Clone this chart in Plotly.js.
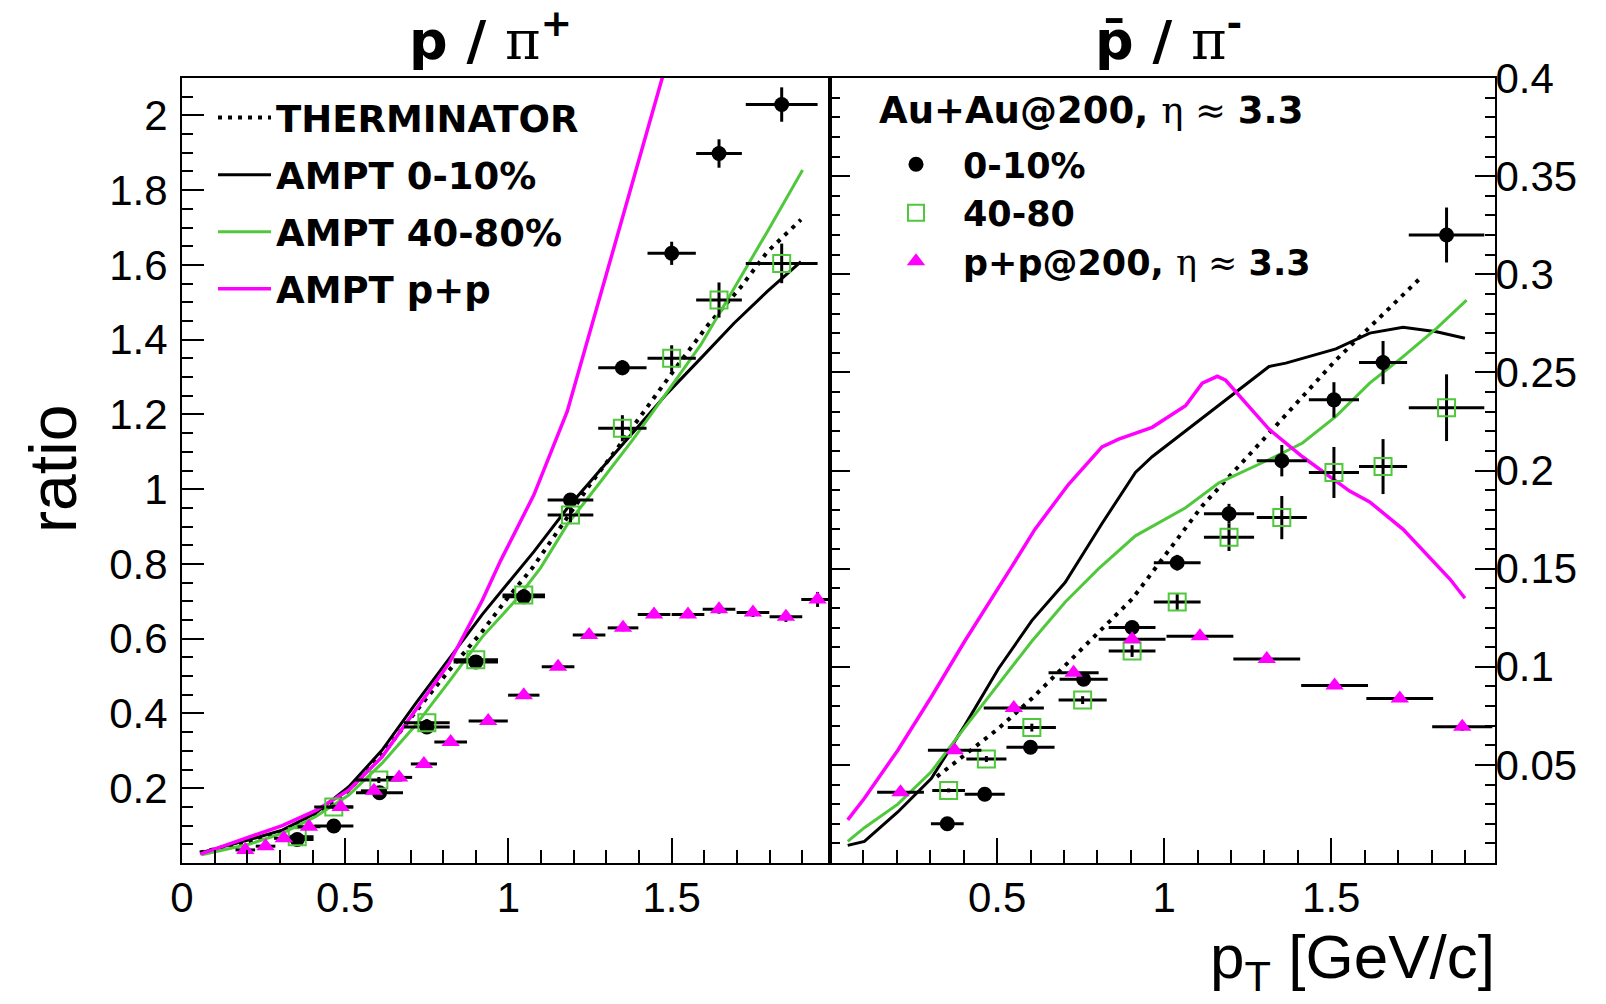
<!DOCTYPE html>
<html><head><meta charset="utf-8">
<script src="https://cdn.plot.ly/plotly-3.0.1.min.js"></script>
<style>html,body{margin:0;padding:0;background:#fff}#chart{width:1606px;height:1004px}</style>
</head><body><div id="chart"></div>
<script>
// ---------------- LEFT PANEL: p / pi+ ----------------
const L_auau010_x  = [0.353, 0.465, 0.605, 0.75, 0.90, 1.047, 1.19, 1.349, 1.50, 1.645, 1.837];
const L_auau010_y  = [0.063, 0.099, 0.188, 0.364, 0.538, 0.712, 0.971, 1.325, 1.631, 1.898, 2.029];
const L_auau010_ex = [0.05, 0.06, 0.072, 0.07, 0.068, 0.065, 0.07, 0.074, 0.074, 0.07, 0.11];
const L_auau010_ey = [0.005, 0.005, 0.007, 0.01, 0.012, 0.015, 0.015, 0.02, 0.031, 0.038, 0.046];

const L_auau4080_x  = [0.353, 0.465, 0.603, 0.75, 0.90, 1.047, 1.19, 1.349, 1.50, 1.645, 1.837];
const L_auau4080_y  = [0.07, 0.15, 0.222, 0.375, 0.544, 0.717, 0.931, 1.163, 1.350, 1.506, 1.604];
const L_auau4080_ex = [0.05, 0.06, 0.072, 0.07, 0.068, 0.065, 0.07, 0.074, 0.074, 0.07, 0.11];
const L_auau4080_ey = [0.005, 0.006, 0.008, 0.01, 0.012, 0.015, 0.02, 0.035, 0.035, 0.047, 0.053];

const L_pp_x  = [0.194, 0.256, 0.312, 0.389, 0.486, 0.588, 0.665, 0.741, 0.823, 0.938, 1.047, 1.152, 1.247, 1.351, 1.446, 1.55, 1.645, 1.749, 1.85, 1.947];
const L_pp_y  = [0.035, 0.045, 0.066, 0.097, 0.15, 0.193, 0.229, 0.265, 0.324, 0.38, 0.449, 0.525, 0.610, 0.629, 0.665, 0.665, 0.679, 0.670, 0.659, 0.705];
const L_pp_ex = [0.03, 0.03, 0.03, 0.035, 0.038, 0.04, 0.04, 0.04, 0.05, 0.06, 0.048, 0.05, 0.05, 0.047, 0.05, 0.05, 0.05, 0.05, 0.05, 0.05];
const L_pp_ey = [0.003, 0.003, 0.003, 0.004, 0.004, 0.005, 0.005, 0.005, 0.006, 0.006, 0.007, 0.008, 0.008, 0.009, 0.01, 0.01, 0.012, 0.012, 0.014, 0.02];

const L_therm_x = [0.055, 0.205, 0.307, 0.409, 0.511, 0.613, 0.716, 0.818, 0.92, 0.992, 1.073, 1.252, 1.333, 1.395, 1.507, 1.61, 1.712, 1.793, 1.896];
const L_therm_y = [0.028, 0.058, 0.085, 0.128, 0.195, 0.289, 0.405, 0.515, 0.62, 0.703, 0.789, 1.015, 1.109, 1.184, 1.318, 1.438, 1.541, 1.635, 1.721];

const L_ampt010_x = [0.055, 0.205, 0.307, 0.409, 0.511, 0.613, 0.716, 0.818, 0.92, 1.078, 1.18, 1.282, 1.384, 1.487, 1.589, 1.691, 1.793, 1.896];
const L_ampt010_y = [0.027, 0.062, 0.088, 0.133, 0.204, 0.302, 0.427, 0.547, 0.665, 0.833, 0.949, 1.052, 1.154, 1.257, 1.35, 1.444, 1.529, 1.609];

const L_ampt4080_x = [0.06, 0.205, 0.307, 0.409, 0.511, 0.613, 0.716, 0.818, 0.92, 1.022, 1.098, 1.18, 1.282, 1.384, 1.487, 1.589, 1.691, 1.793, 1.901];
const L_ampt4080_y = [0.022, 0.05, 0.079, 0.124, 0.182, 0.267, 0.369, 0.485, 0.605, 0.703, 0.789, 0.905, 1.02, 1.136, 1.261, 1.386, 1.537, 1.689, 1.854];

const L_ampt_pp_x = [0.056, 0.205, 0.307, 0.409, 0.511, 0.613, 0.716, 0.818, 0.92, 0.975, 1.078, 1.18, 1.282, 1.384, 1.471, 1.50];
const L_ampt_pp_y = [0.024, 0.068, 0.10, 0.14, 0.195, 0.284, 0.409, 0.534, 0.703, 0.807, 0.985, 1.208, 1.52, 1.832, 2.10, 2.21];

// ---------------- RIGHT PANEL: pbar / pi- ----------------
const R_auau010_x  = [0.351, 0.463, 0.60, 0.759, 0.904, 1.039, 1.194, 1.352, 1.508, 1.655, 1.845];
const R_auau010_y  = [0.020, 0.035, 0.059, 0.0936, 0.120, 0.153, 0.178, 0.205, 0.236, 0.255, 0.320];
const R_auau010_ex = [0.049, 0.06, 0.072, 0.072, 0.07, 0.07, 0.075, 0.075, 0.075, 0.072, 0.113];
const R_auau010_ey = [0.001, 0.001, 0.0015, 0.002, 0.003, 0.004, 0.005, 0.008, 0.009, 0.011, 0.014];

const R_auau4080_x  = [0.355, 0.468, 0.604, 0.756, 0.904, 1.039, 1.194, 1.352, 1.508, 1.655, 1.845];
const R_auau4080_y  = [0.037, 0.053, 0.069, 0.083, 0.108, 0.133, 0.166, 0.176, 0.199, 0.202, 0.232];
const R_auau4080_ex = [0.049, 0.06, 0.072, 0.072, 0.07, 0.07, 0.075, 0.075, 0.075, 0.072, 0.113];
const R_auau4080_ey = [0.001, 0.0015, 0.002, 0.002, 0.003, 0.004, 0.007, 0.011, 0.013, 0.014, 0.017];

const R_pp_x  = [0.211, 0.373, 0.55, 0.729, 0.904, 1.107, 1.307, 1.51, 1.705, 1.892];
const R_pp_y  = [0.036, 0.0575, 0.079, 0.097, 0.114, 0.1156, 0.104, 0.0905, 0.0838, 0.0694];
const R_pp_ex = [0.07, 0.08, 0.09, 0.075, 0.1, 0.1, 0.1, 0.1, 0.1, 0.09];
const R_pp_ey = [0.001, 0.001, 0.001, 0.001, 0.001, 0.001, 0.001, 0.001, 0.001, 0.002];

const R_therm_x = [0.32, 0.403, 0.504, 0.604, 0.704, 0.804, 0.904, 0.979, 1.114, 1.314, 1.514, 1.765];
const R_therm_y = [0.044, 0.055, 0.0685, 0.0838, 0.1007, 0.1176, 0.1345, 0.1514, 0.182, 0.219, 0.2563, 0.2978];

const R_ampt010_x = [0.053, 0.103, 0.203, 0.303, 0.403, 0.504, 0.604, 0.704, 0.814, 0.914, 0.964, 1.114, 1.214, 1.314, 1.364, 1.514, 1.615, 1.715, 1.815, 1.90];
const R_ampt010_y = [0.009, 0.011, 0.026, 0.043, 0.070, 0.099, 0.1235, 0.143, 0.173, 0.199, 0.207, 0.2267, 0.2394, 0.253, 0.2547, 0.262, 0.270, 0.273, 0.2707, 0.2674];

const R_ampt4080_x = [0.053, 0.103, 0.203, 0.303, 0.403, 0.504, 0.604, 0.704, 0.804, 0.914, 1.064, 1.164, 1.314, 1.414, 1.514, 1.615, 1.715, 1.815, 1.905];
const R_ampt4080_y = [0.011, 0.018, 0.030, 0.0465, 0.069, 0.091, 0.113, 0.133, 0.150, 0.1667, 0.181, 0.1937, 0.2056, 0.214, 0.2276, 0.2445, 0.258, 0.2724, 0.2868];

const R_ampt_pp_x = [0.053, 0.103, 0.203, 0.303, 0.403, 0.504, 0.544, 0.613, 0.714, 0.814, 0.864, 0.964, 1.064, 1.114, 1.159, 1.184, 1.314, 1.414, 1.555, 1.615, 1.715, 1.855, 1.90];
const R_ampt_pp_y = [0.022, 0.033, 0.0575, 0.0846, 0.113, 0.140, 0.151, 0.170, 0.193, 0.212, 0.216, 0.222, 0.233, 0.2445, 0.248, 0.246, 0.221, 0.207, 0.1895, 0.184, 0.170, 0.1447, 0.1349];

// ---------------- tick labels ----------------
const leftXTicks  = [0, 0.5, 1, 1.5];
const rightXTicks = [0.5, 1, 1.5];
const leftYTicks  = [0.2, 0.4, 0.6, 0.8, 1, 1.2, 1.4, 1.6, 1.8, 2];
const rightYTicks = [0.05, 0.1, 0.15, 0.2, 0.25, 0.3, 0.35, 0.4];

// ---------------- labels ----------------
const legendCurveNames = ['<b>THERMINATOR</b>', '<b>AMPT 0-10%</b>', '<b>AMPT 40-80%</b>', '<b>AMPT p+p</b>'];
const SERIF = "font-family:'DejaVu Serif'";
const legendDataNames = ['<b>0-10%</b>', '<b>40-80</b>', '<b>p+p@200, </b><span style="' + SERIF + '">η ≈ </span><b>3.3</b>'];
const headerText = '<b>Au+Au@200, </b><span style="' + SERIF + '">η ≈ </span><b>3.3</b>';
const titleLeft = '<b>p / </b><span style="' + SERIF + '">π</span><sup><b>+</b></sup>';
const titleRight = '<b>p\u0304 / </b><span style="' + SERIF + '">π</span><sup><b>-</b></sup>';
const yTitle = 'ratio';
const xTitle = 'p<sub>T</sub> [GeV/c]';

// ---------------- styles ----------------
const W = 1606, H = 1004;
const px = v => v / W, py = v => 1 - v / H;
const GREEN = '#50c83c', MAG = '#ff00ff';
const curveStyles = [
  {color: '#000', width: 4, dash: '4px,6px'},
  {color: '#000', width: 3},
  {color: GREEN, width: 3},
  {color: MAG, width: 3.5}
];
function errs(a) { return {type: 'data', array: a, color: '#000', thickness: 3, width: 0}; }

const traces = [];
const Lcurves = [[L_therm_x, L_therm_y], [L_ampt010_x, L_ampt010_y], [L_ampt4080_x, L_ampt4080_y], [L_ampt_pp_x, L_ampt_pp_y]];
const Rcurves = [[R_therm_x, R_therm_y], [R_ampt010_x, R_ampt010_y], [R_ampt4080_x, R_ampt4080_y], [R_ampt_pp_x, R_ampt_pp_y]];
Lcurves.forEach((c, i) => traces.push({x: c[0], y: c[1], xaxis: 'x', yaxis: 'y', mode: 'lines', line: curveStyles[i],
  name: legendCurveNames[i], legend: 'legend', legendgroup: 'g' + i, showlegend: true}));
Rcurves.forEach((c, i) => traces.push({x: c[0], y: c[1], xaxis: 'x2', yaxis: 'y2', mode: 'lines', line: curveStyles[i],
  showlegend: false}));

const mk = [
  {symbol: 'circle', size: 15, color: '#000'},
  {symbol: 'square-open', size: 17, color: GREEN, line: {width: 2, color: GREEN}},
  {symbol: 'triangle-up', size: 16, color: MAG}
];
const Ldata = [[L_auau010_x, L_auau010_y, L_auau010_ex, L_auau010_ey], [L_auau4080_x, L_auau4080_y, L_auau4080_ex, L_auau4080_ey], [L_pp_x, L_pp_y, L_pp_ex, L_pp_ey]];
const Rdata = [[R_auau010_x, R_auau010_y, R_auau010_ex, R_auau010_ey], [R_auau4080_x, R_auau4080_y, R_auau4080_ex, R_auau4080_ey], [R_pp_x, R_pp_y, R_pp_ex, R_pp_ey]];
Ldata.forEach((d, i) => traces.push({x: d[0], y: d[1], error_x: errs(d[2]), error_y: errs(d[3]), xaxis: 'x', yaxis: 'y',
  mode: 'markers', marker: mk[i], showlegend: false}));
Rdata.forEach((d, i) => traces.push({x: d[0], y: d[1], error_x: errs(d[2]), error_y: errs(d[3]), xaxis: 'x2', yaxis: 'y2',
  mode: 'markers', marker: mk[i], name: legendDataNames[i], legend: 'legend2', showlegend: true}));

const tickFont = {family: 'Liberation Sans, Arial, sans-serif', size: 42, color: '#000'};
const yDom = [py(863), py(78)];
const axBase = {showline: true, linecolor: '#000', linewidth: 2, showgrid: false, zeroline: false,
  ticks: 'inside', tickcolor: '#000', tickwidth: 2, tickfont: tickFont, fixedrange: true, tickmode: 'array'};
const minorX = {tickmode: 'linear', tick0: 0, dtick: 0.1, ticklen: 13, tickwidth: 2, tickcolor: '#000', ticks: 'inside'};

const layout = {
  width: W, height: H, margin: {l: 0, r: 0, t: 0, b: 0}, paper_bgcolor: '#fff', plot_bgcolor: '#fff',
  showlegend: true, hovermode: false,
  xaxis: Object.assign({}, axBase, {domain: [px(182), px(830)], range: [0, 1.985], anchor: 'y', mirror: true,
    tickvals: leftXTicks, ticktext: leftXTicks.map(String), ticklen: 25, ticklabelstandoff: -3, minor: minorX}),
  yaxis: Object.assign({}, axBase, {domain: yDom, range: [0, 2.1], anchor: 'x', mirror: true,
    tickvals: leftYTicks, ticktext: leftYTicks.map(String), ticklen: 22, ticklabelstandoff: 4,
    minor: {tickmode: 'linear', tick0: 0, dtick: 0.05, ticklen: 11, tickwidth: 2, tickcolor: '#000', ticks: 'inside'}}),
  xaxis2: Object.assign({}, axBase, {domain: [px(830), px(1495)], range: [0, 1.99], anchor: 'y2', mirror: true,
    tickvals: rightXTicks, ticktext: rightXTicks.map(String), ticklen: 25, ticklabelstandoff: -3, minor: minorX}),
  yaxis2: Object.assign({}, axBase, {domain: yDom, range: [0, 0.4], anchor: 'x2', side: 'right', mirror: 'ticks',
    tickvals: rightYTicks, ticktext: rightYTicks.map(String), ticklen: 20, ticklabelstandoff: -10,
    minor: {tickmode: 'linear', tick0: 0, dtick: 0.01, ticklen: 10, tickwidth: 2, tickcolor: '#000', ticks: 'inside'}}),
  legend: {x: px(213), y: py(87), xanchor: 'left', yanchor: 'top', bgcolor: 'rgba(0,0,0,0)', borderwidth: 0,
    font: {family: 'DejaVu Sans', size: 37, color: '#000'}, itemwidth: 53, traceorder: 'grouped', tracegroupgap: 6},
  legend2: {x: px(869), y: py(135), xanchor: 'left', yanchor: 'top', bgcolor: 'rgba(0,0,0,0)', borderwidth: 0,
    font: {family: 'DejaVu Sans', size: 35, color: '#000'}, itemwidth: 84, tracegroupgap: 0},
  annotations: [
    {text: titleLeft, x: px(490), y: py(37), xref: 'paper', yref: 'paper', xanchor: 'center', yanchor: 'middle', showarrow: false,
      font: {family: 'DejaVu Sans', size: 54, color: '#000'}},
    {text: titleRight, x: px(1168), y: py(37), xref: 'paper', yref: 'paper', xanchor: 'center', yanchor: 'middle', showarrow: false,
      font: {family: 'DejaVu Sans', size: 54, color: '#000'}},
    {text: yTitle, x: px(53), y: py(469), xref: 'paper', yref: 'paper', xanchor: 'center', yanchor: 'middle', showarrow: false,
      textangle: -90, font: {family: 'Liberation Sans, Arial, sans-serif', size: 66, color: '#000'}},
    {text: xTitle, x: px(1497), y: py(961), xref: 'paper', yref: 'paper', xanchor: 'right', yanchor: 'middle', showarrow: false,
      font: {family: 'Liberation Sans, Arial, sans-serif', size: 62, color: '#000'}},
    {text: headerText, x: px(877), y: py(110), xref: 'paper', yref: 'paper', xanchor: 'left', yanchor: 'middle', showarrow: false,
      font: {family: 'DejaVu Sans', size: 37, color: '#000'}}
  ]
};

Plotly.newPlot('chart', traces, layout, {displayModeBar: false, staticPlot: true});
</script></body></html>
